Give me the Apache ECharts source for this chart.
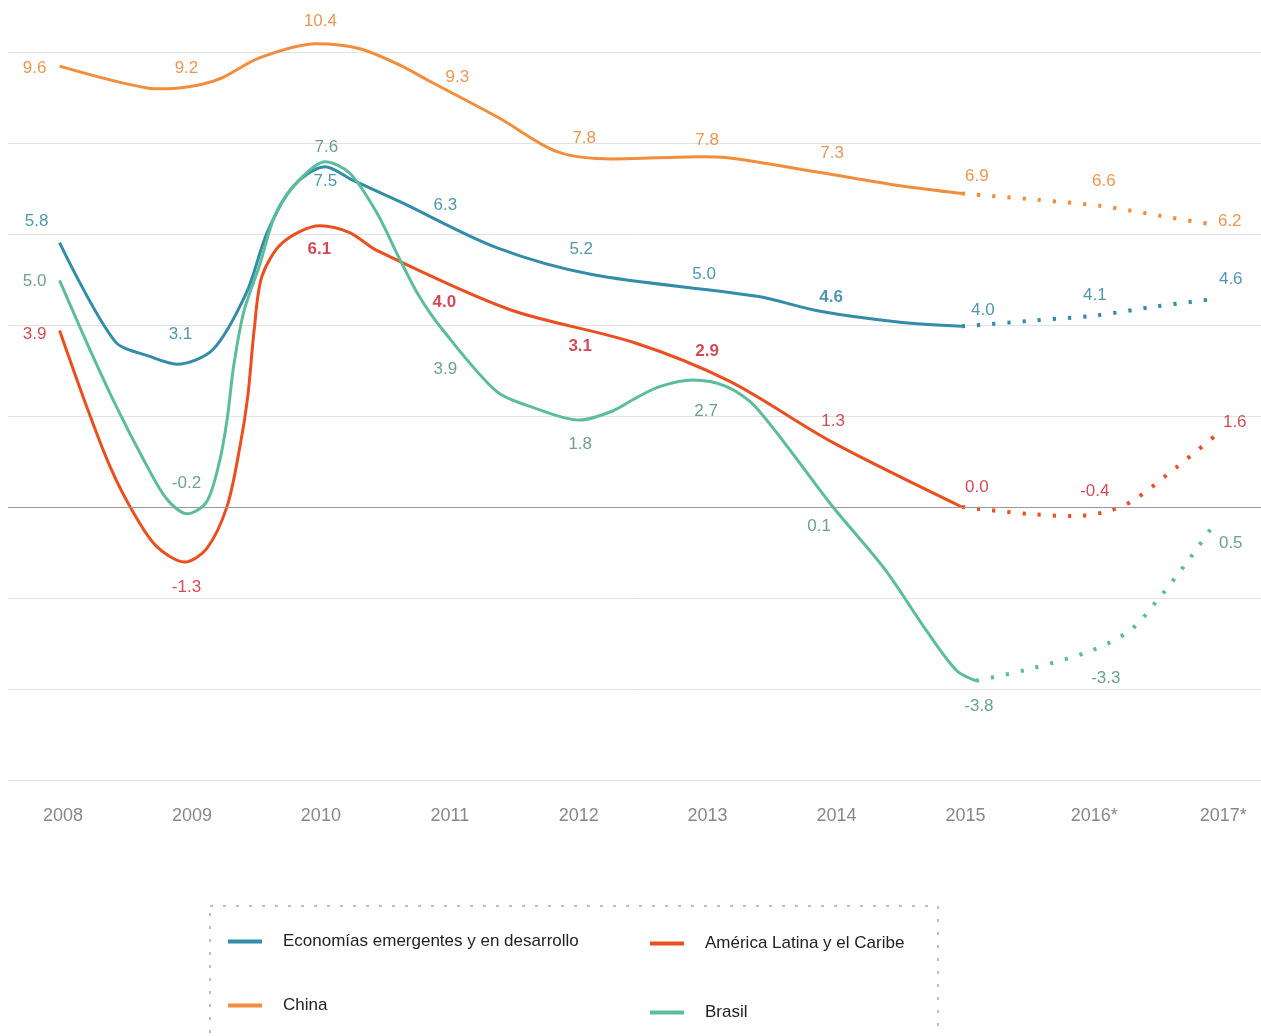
<!DOCTYPE html>
<html>
<head>
<meta charset="utf-8">
<script src="https://cdn.jsdelivr.net/npm/echarts@6/dist/echarts.min.js"></script>
<style>
  html, body { margin: 0; padding: 0; background: #fff; }
  #chart { width: 1261px; height: 1036px; }
</style>
</head>
<body>
<div id="chart"></div>
<script>
// años del eje y etiquetas
const years = [2008, 2009, 2010, 2011, 2012, 2013, 2014, 2015, 2016, 2017];
const yearLabels = ['2008', '2009', '2010', '2011', '2012', '2013', '2014', '2015', '2016*', '2017*'];

// valores anuales (etiquetas)
const emergVals = [5.8, 3.1, 7.5, 6.3, 5.2, 5.0, 4.6, 4.0, 4.1, 4.6];
const latamVals = [3.9, -1.3, 6.1, 4.0, 3.1, 2.9, 1.3, 0.0, -0.4, 1.6];
const chinaVals = [9.6, 9.2, 10.4, 9.3, 7.8, 7.8, 7.3, 6.9, 6.6, 6.2];
const brasilVals = [5.0, -0.2, 7.6, 3.9, 1.8, 2.7, 0.1, -3.8, -3.3, 0.5];

// trazos de las curvas [año, %]
const chinaPath = [[2008.0, 9.69], [2008.68, 9.21], [2008.83, 9.19], [2009.09, 9.28], [2009.26, 9.43],
  [2009.55, 9.87], [2009.99, 10.18], [2010.33, 10.07], [2010.64, 9.71], [2010.85, 9.39], [2011.41, 8.55],
  [2011.86, 7.81], [2012.29, 7.65], [2012.97, 7.70], [2013.17, 7.68], [2013.90, 7.35], [2014.52, 7.06], [2015.0, 6.89]];
const chinaProj = [[2015.0, 6.89], [2015.59, 6.75], [2016.07, 6.62], [2016.54, 6.40], [2016.90, 6.23]];

const emergPath = [[2008.0, 5.81], [2008.43, 3.64], [2008.70, 3.31], [2008.91, 3.14], [2009.19, 3.46],
  [2009.45, 4.71], [2009.61, 6.03], [2009.81, 7.04], [2010.06, 7.48], [2010.27, 7.19], [2010.64, 6.71],
  [2011.39, 5.70], [2012.13, 5.11], [2013.41, 4.63], [2013.90, 4.30], [2014.52, 4.06], [2015.0, 3.97]];
const emergProj = [[2015.0, 3.97], [2015.56, 4.10], [2016.04, 4.21], [2016.51, 4.41], [2016.98, 4.58]];

const latamPath = [[2008.0, 3.88], [2008.21, 2.21], [2008.39, 0.90], [2008.57, -0.11], [2008.75, -0.86],
  [2008.97, -1.21], [2009.14, -0.92], [2009.30, 0.02], [2009.40, 1.34], [2009.46, 2.43], [2009.51, 3.9],
  [2009.57, 5.07], [2009.73, 5.81], [2010.02, 6.18], [2010.25, 6.03], [2010.46, 5.64], [2011.49, 4.34],
  [2012.45, 3.62], [2013.20, 2.76], [2013.99, 1.43], [2015.0, 0.0]];
const latamProj = [[2015.0, 0.0], [2015.51, -0.15], [2015.87, -0.2], [2016.11, -0.11], [2016.32, 0.13],
  [2016.61, 0.75], [2016.98, 1.60]];

const brasilPath = [[2008.0, 4.98], [2008.21, 3.62], [2008.44, 2.21], [2008.65, 1.05], [2008.83, 0.18],
  [2008.99, -0.15], [2009.14, 0.11], [2009.24, 0.99], [2009.30, 1.93], [2009.35, 3.09], [2009.43, 4.3],
  [2009.55, 5.3], [2009.68, 6.47], [2009.86, 7.19], [2010.06, 7.59], [2010.25, 7.34], [2010.46, 6.47],
  [2010.64, 5.44], [2010.79, 4.63], [2010.97, 3.90], [2011.39, 2.54], [2011.67, 2.19], [2012.03, 1.91],
  [2012.29, 2.11], [2012.48, 2.41], [2012.66, 2.65], [2012.91, 2.79], [2013.17, 2.65], [2013.40, 2.2],
  [2014.0, 0.0], [2014.40, -1.36], [2014.73, -2.74], [2014.96, -3.6], [2015.11, -3.82]];
const brasilProj = [[2015.11, -3.82], [2015.54, -3.55], [2016.0, -3.16], [2016.31, -2.70], [2016.55, -1.93],
  [2016.77, -1.12], [2016.98, -0.28]];

const names = ['Economías emergentes y en desarrollo', 'América Latina y el Caribe', 'China', 'Brasil'];

// desplazamiento de cada etiqueta respecto a su punto (px)
const emergOff = [[-23, -22], [-8, -32], [8, 16], [-1, -15], [6, -21], [0, -5], [-2, 0], [21, -15], [4, -25], [11, -18]];
const latamOff = [[-25, 5], [-2, 21], [2, 20], [-2, -23], [5, -20], [3, -24], [0, -27], [15, -20], [4, -34], [15, -12]];
const chinaOff = [[-25, -2], [-2, -20], [3, -12], [11, -7], [9, -14], [3, -12], [-1, -22], [15, -17], [13, -25], [10, -4]];
const brasilOff = [[-25, 2], [-2, -33], [9, -14], [-1, 40], [5, 19], [2, 27], [-14, 24], [17, 26], [15, 21], [11, 59]];
const emergBold = [6];
const latamBold = [2, 3, 4, 5];

const FONT = '"Liberation Sans", Arial, Helvetica, sans-serif';

const lineSeries = (name, data, color, dotted, extra) => Object.assign({
  type: 'line',
  name: name,
  data: data,
  smooth: 0.3,
  showSymbol: false,
  symbol: 'none',
  silent: true,
  clip: false,
  lineStyle: dotted ? { color: color, width: 4, type: [3.2, 12], cap: 'butt' } : { color: color, width: 3 },
  itemStyle: { color: color },
  z: 3
}, extra || {});

const labelSeries = (name, vals, offs, bold, color) => ({
  type: 'scatter',
  name: name + ' etiquetas',
  symbolSize: 1,
  silent: true,
  clip: false,
  itemStyle: { color: 'rgba(0,0,0,0)' },
  z: 5,
  data: vals.map((v, i) => ({
    value: [years[i], v],
    label: {
      offset: offs[i],
      fontWeight: bold.indexOf(i) >= 0 ? 'bold' : 'normal'
    }
  })),
  label: {
    show: true,
    position: 'inside',
    color: color,
    fontSize: 17,
    fontFamily: FONT,
    formatter: p => p.value[1].toFixed(1)
  }
});

const legendBase = {
  orient: 'vertical',
  padding: 0,
  itemWidth: 34,
  itemHeight: 4,
  icon: 'rect',
  textStyle: { color: '#222', fontSize: 17, fontFamily: FONT, padding: [0, 0, 0, 16] }
};

const chart = echarts.init(document.getElementById('chart'));
chart.setOption({
  animation: false,
  backgroundColor: '#fff',
  grid: { left: 8, right: 0, top: 52, bottom: 256 },
  xAxis: {
    type: 'value',
    min: 2007.6,
    max: 2017.32,
    axisLine: { show: false },
    axisTick: { show: false },
    splitLine: { show: false },
    axisLabel: {
      customValues: years,
      formatter: v => yearLabels[years.indexOf(Math.round(v))],
      color: '#888',
      fontSize: 18,
      fontFamily: FONT,
      margin: 27,
      padding: [0, 0, 0, 7]
    }
  },
  yAxis: {
    type: 'value',
    min: -6,
    max: 10,
    interval: 2,
    axisLine: { show: false },
    axisTick: { show: false },
    axisLabel: { show: false },
    splitLine: { lineStyle: { color: '#e2e2e2', width: 1 } }
  },
  legend: [
    Object.assign({}, legendBase, { data: [names[0], names[2]], left: 228, top: 933, itemGap: 47 }),
    Object.assign({}, legendBase, { data: [names[1], names[3]], left: 650, top: 935, itemGap: 52 })
  ],
  graphic: [{
    type: 'rect',
    silent: true,
    shape: { x: 210, y: 906, width: 728, height: 200 },
    style: { fill: 'none', stroke: '#aaa', lineWidth: 1.5, lineDash: [3, 10] }
  }],
  series: [
    lineSeries(names[2], chinaPath, '#f28e3b', false, {
      markLine: {
        silent: true,
        symbol: 'none',
        label: { show: false },
        lineStyle: { color: '#999', width: 1, type: 'solid' },
        data: [{ yAxis: 0 }]
      }
    }),
    lineSeries(names[2] + ' proyección', chinaProj, '#f28e3b', true),
    lineSeries(names[0], emergPath, '#338ca8', false),
    lineSeries(names[0] + ' proyección', emergProj, '#338ca8', true),
    lineSeries(names[1], latamPath, '#ea4f1f', false),
    lineSeries(names[1] + ' proyección', latamProj, '#ea4f1f', true),
    lineSeries(names[3], brasilPath, '#5bbd99', false),
    lineSeries(names[3] + ' proyección', brasilProj, '#5bbd99', true),
    labelSeries(names[2], chinaVals, chinaOff, [], '#e57d27'),
    labelSeries(names[0], emergVals, emergOff, emergBold, '#247c9c'),
    labelSeries(names[1], latamVals, latamOff, latamBold, '#c81d2c'),
    labelSeries(names[3], brasilVals, brasilOff, [], '#458b6d')
  ]
});
window.addEventListener('resize', () => chart.resize());
</script>
</body>
</html>
